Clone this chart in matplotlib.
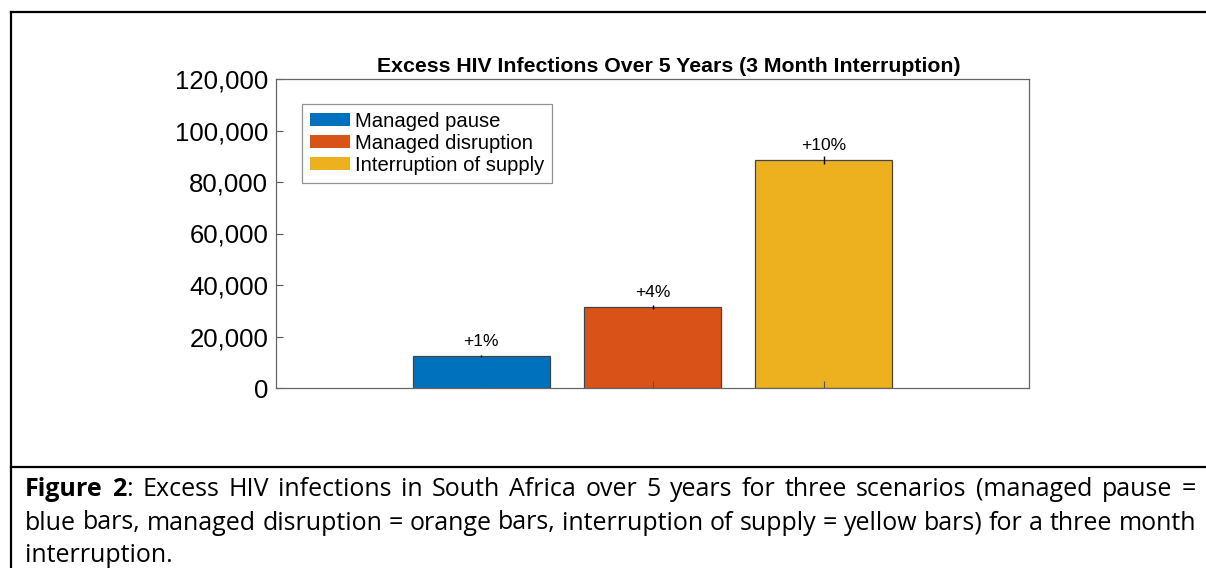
import matplotlib
matplotlib.use('Agg')
import matplotlib.pyplot as plt
from matplotlib.lines import Line2D
from matplotlib.patches import Patch

# Data
scenarios = ['Managed pause', 'Managed disruption', 'Interruption of supply']
excess_infections = [12400, 31500, 88600]
errors = [400, 700, 1500]
pct_labels = ['+1%', '+4%', '+10%']
colors = ['#0072BD', '#D95319', '#EDB120']
yticks = [0, 20000, 40000, 60000, 80000, 100000, 120000]

caption_lines = [
    'Figure 2: Excess HIV infections in South Africa over 5 years for three scenarios (managed pause =',
    'blue bars, managed disruption = orange bars, interruption of supply = yellow bars) for a three month',
    'interruption.',
]

W, H = 1206, 568
fig = plt.figure(figsize=(W / 100, H / 100), dpi=100)
plt.rcParams['font.family'] = ['Liberation Sans', 'DejaVu Sans']

# axes placed in pixel coords of the page screenshot
left, right, top, bottom = 276, 1029, 79, 388
ax = fig.add_axes([left / W, 1 - bottom / H, (right - left) / W, (bottom - top) / H])

x = [1, 2, 3]
ax.bar(x, excess_infections, width=0.8, color=colors, edgecolor='#444444', linewidth=0.9)
ax.errorbar(x, excess_infections, yerr=errors, fmt='none', ecolor='black', elinewidth=1, capsize=0)
for xi, v, lab in zip(x, excess_infections, pct_labels):
    ax.text(xi, v + 2600, lab, ha='center', va='bottom', fontsize=12.5)

ax.set_xlim(-0.2, 4.2)
ax.set_ylim(0, 120000)
ax.set_xticks(x)
ax.set_xticklabels([])
ax.set_yticks(yticks)
ax.set_yticklabels([f'{t:,}' for t in yticks], fontsize=18.5)
ax.tick_params(direction='in', length=5, color='#555555', width=0.8)
ax.tick_params(axis='y', pad=5.5)
for s in ax.spines.values():
    s.set_color('#666666')
    s.set_linewidth(0.9)

ax.set_title('Excess HIV Infections Over 5 Years (3 Month Interruption)',
             fontsize=15.3, fontweight='bold', pad=5, x=0.522)

handles = [Patch(facecolor=c, edgecolor='none') for c in colors]
leg = ax.legend(handles, scenarios, loc='upper left', bbox_to_anchor=(0.0345, 0.92),
                fontsize=14.6, frameon=True, fancybox=False, handlelength=1.95,
                handleheight=0.6, handletextpad=0.25, labelspacing=0.15,
                borderpad=0.4, borderaxespad=0)
leg.get_frame().set_edgecolor('#777777')
leg.get_frame().set_linewidth(0.9)

# page borders of the document table
def hline(y, x0, x1):
    fig.add_artist(Line2D([x0 / W, x1 / W], [1 - y / H, 1 - y / H], color='black', lw=1.6))

def vline(xp, y0, y1):
    fig.add_artist(Line2D([xp / W, xp / W], [1 - y0 / H, 1 - y1 / H], color='black', lw=1.6))

hline(12, 11, W)
hline(467, 11, W)
vline(11, 12, H)

# caption, justified like the document text
cap_font = ['Open Sans', 'DejaVu Sans']
cap_size = 18
renderer = fig.canvas.get_renderer()
x0, x1 = 25, 1196
line_y = [490, 523, 555]

def draw_word(px, py, word, first):
    # "Figure 2" is bold, the colon after it is not
    pieces = [(word, 'normal')]
    if first and word == '2:':
        pieces = [('2', 'bold'), (':', 'normal')]
    elif first and word == 'Figure':
        pieces = [('Figure', 'bold')]
    cur = px
    for txt, wt in pieces:
        t = fig.text(cur / W, 1 - py / H, txt, fontsize=cap_size, fontweight=wt,
                     va='center', ha='left', family=cap_font)
        cur += t.get_window_extent(renderer).width
    return cur - px

for i, (line, py) in enumerate(zip(caption_lines, line_y)):
    words = line.split(' ')
    first = i == 0
    widths = []
    for w in words:
        t = fig.text(0, 0, w, fontsize=cap_size, family=cap_font,
                     fontweight='bold' if (first and w in ('Figure', '2:')) else 'normal')
        widths.append(t.get_window_extent(renderer).width)
        t.remove()
    if i < len(caption_lines) - 1:
        gap = (x1 - x0 - sum(widths)) / (len(words) - 1)
    else:
        sp = fig.text(0, 0, 'a a', fontsize=cap_size, family=cap_font)
        sp2 = fig.text(0, 0, 'aa', fontsize=cap_size, family=cap_font)
        gap = sp.get_window_extent(renderer).width - sp2.get_window_extent(renderer).width
        sp.remove()
        sp2.remove()
    px = x0
    for w in words:
        px += draw_word(px, py, w, first) + gap

fig.savefig('out.png', dpi=100)
